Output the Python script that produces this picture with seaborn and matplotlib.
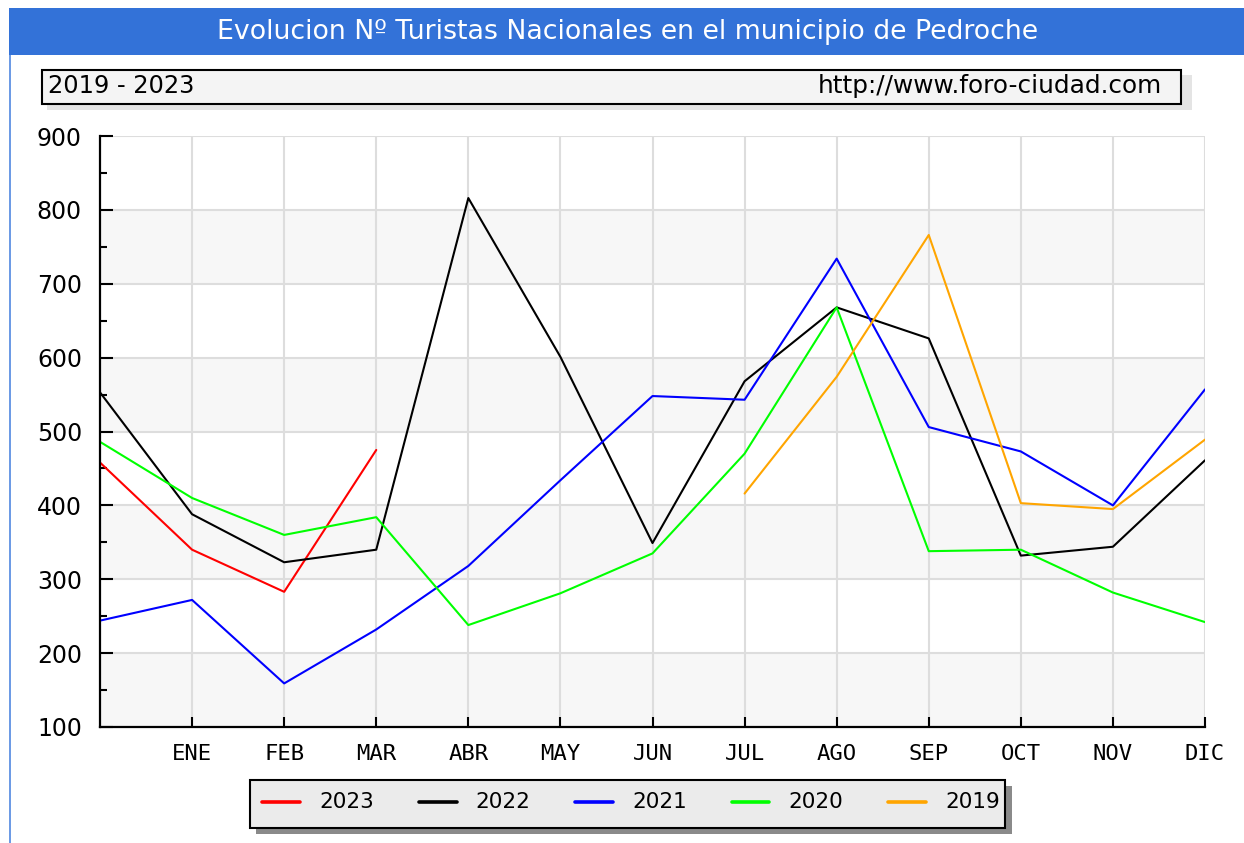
import numpy as np
import pandas as pd
import matplotlib
matplotlib.use("Agg")
import matplotlib.pyplot as plt
from matplotlib.patches import Rectangle
from matplotlib.lines import Line2D
import seaborn as sns

# ---- data ----
months = ["", "ENE", "FEB", "MAR", "ABR", "MAY", "JUN", "JUL", "AGO", "SEP", "OCT", "NOV", "DIC"]
years = ["2023", "2022", "2021", "2020", "2019"]
v2023 = [458, 340, 283, 475, None, None, None, None, None, None, None, None, None]
v2022 = [553, 388, 323, 340, 816, 601, 349, 568, 668, 626, 332, 344, 461]
v2021 = [244, 272, 159, 232, 318, 434, 548, 543, 734, 506, 473, 400, 557]
v2020 = [486, 410, 360, 384, 238, 281, 335, 470, 668, 338, 340, 282, 242]
v2019 = [None, None, None, None, None, None, None, 416, 574, 766, 403, 395, 489]
colors = ["#ff0000", "#000000", "#0000ff", "#00ff00", "#ffa500"]

series = dict(zip(years, [v2023, v2022, v2021, v2020, v2019]))
rows = []
for y, vals in series.items():
    for i, v in enumerate(vals):
        if v is not None:
            rows.append({"pos": i, "value": v, "year": y})
df = pd.DataFrame(rows)

sns.set_style("white")
plt.rcParams["font.family"] = ["DejaVu Sans"]
plt.rcParams["text.color"] = "black"
plt.rcParams["xtick.labelcolor"] = "black"
plt.rcParams["ytick.labelcolor"] = "black"

W, H = 1244, 843
fig = plt.figure(figsize=(W / 100, H / 100), dpi=100)
fig.patch.set_facecolor("white")

def fx(px):
    return px / W

def fy(py):
    return 1 - py / H

def frect(x0, y0, x1, y1, **kw):
    r = Rectangle((fx(x0), fy(y1)), fx(x1) - fx(x0), fy(y0) - fy(y1),
                  transform=fig.transFigure, **kw)
    fig.add_artist(r)
    return r

# title bar
frect(9, 8, W, 55, facecolor="#3372d8", edgecolor="none", zorder=1)
fig.text(fx(628), fy(32), "Evolucion Nº Turistas Nacionales en el municipio de Pedroche",
         color="white", fontsize=19.3, ha="center", va="center", zorder=2)
# left border line
frect(9, 55, 11, H, facecolor="#6d9be5", edgecolor="none", zorder=1)

# subtitle box
frect(47, 75, 1192, 110, facecolor="#e4e4e4", edgecolor="none", zorder=1)
frect(42, 70, 1181, 104, facecolor="#f4f4f4", edgecolor="black", linewidth=1.5, zorder=2)
fig.text(fx(48), fy(86), "2019 - 2023", fontsize=17.4, ha="left", va="center",
         color="black", zorder=3)
fig.text(fx(1162), fy(86), "http://www.foro-ciudad.com", fontsize=17.8, ha="right",
         va="center", color="black", zorder=3)

# main axes
ax = fig.add_axes([fx(100), fy(727), fx(1205) - fx(100), fy(136) - fy(727)])
ax.set_facecolor("white")
for lo in (100, 300, 500, 700):
    ax.axhspan(lo, lo + 100, color="#f7f7f7", zorder=0, lw=0)

for x in range(1, 13):
    ax.axvline(x, color="#dddddd", lw=1.5, zorder=0.5)
for y in range(200, 1000, 100):
    ax.axhline(y, color="#dddddd", lw=1.5, zorder=0.5)

sns.lineplot(data=df, x="pos", y="value", hue="year", hue_order=years,
             palette=dict(zip(years, colors)), estimator=None, sort=False,
             legend=False, linewidth=1.5, ax=ax, zorder=3)

ax.set_xlim(0, 12)
ax.set_ylim(100, 900)
ax.set_xticks(range(1, 13))
ax.set_xticklabels(months[1:], fontfamily="DejaVu Sans Mono", fontsize=16)
ax.set_yticks(range(100, 1000, 100))
ax.set_yticks(range(150, 900, 100), minor=True)
ax.tick_params(axis="y", labelsize=17)
ax.set_xlabel("")
ax.set_ylabel("")

for s in ("top", "right"):
    ax.spines[s].set_visible(False)
for s in ("left", "bottom"):
    ax.spines[s].set_color("black")
    ax.spines[s].set_linewidth(1.6)
    ax.spines[s].set_zorder(4)

ax.tick_params(axis="y", which="major", direction="in", length=9, width=1.5,
               color="black", labelcolor="black", pad=13, left=True)
ax.tick_params(axis="y", which="minor", direction="in", length=5, width=1.5,
               color="black", left=True)
ax.tick_params(axis="x", which="major", direction="in", length=7, width=1.5,
               color="black", labelcolor="black", pad=12, bottom=True)

# legend box
frect(256, 786, 1012, 834, facecolor="#8a8a8a", edgecolor="none", zorder=1)
frect(250, 780, 1005, 828, facecolor="#ebebeb", edgecolor="black", linewidth=1.5, zorder=2)
for i, (yr, c) in enumerate(zip(years, colors)):
    x0 = 262 + i * 156.5
    fig.add_artist(Line2D([fx(x0), fx(x0 + 38)], [fy(802), fy(802)], color=c,
                          linewidth=2.6, transform=fig.transFigure, zorder=3))
    fig.text(fx(x0 + 57), fy(802), yr, fontsize=15.5, ha="left", va="center",
             color="black", zorder=3)

fig.savefig("out.png", dpi=100, facecolor="white")
